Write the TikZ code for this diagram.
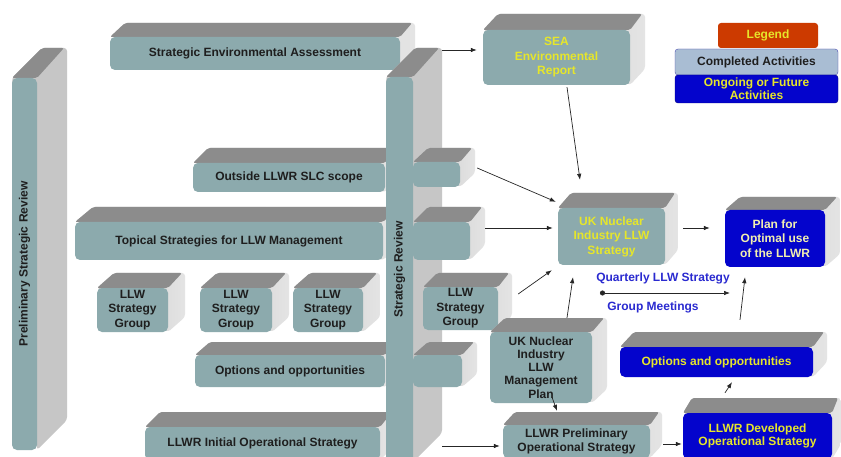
\documentclass[tikz,border=0pt]{standalone}
\usepackage{fontspec}
\setmainfont{Liberation Sans}
\usetikzlibrary{arrows.meta}
\definecolor{tealf}{HTML}{8CAAAD}
\definecolor{topg}{HTML}{8C8C8C}
\definecolor{sideg}{HTML}{C6C6C6}
\definecolor{sidel}{HTML}{E4E4E4}
\definecolor{bluf}{HTML}{0404CC}
\definecolor{ylw}{HTML}{E6E62A}
\definecolor{paleylw}{HTML}{F2F0B0}
\definecolor{txtdark}{HTML}{1E1E1E}
\definecolor{qblue}{HTML}{2A2AD0}
\definecolor{legred}{HTML}{CC3A00}
\definecolor{compl}{HTML}{A9BDD3}
\tikzset{
 front/.style={fill=tealf, rounded corners=5pt, inner sep=1pt, align=center, text=txtdark, font=\bfseries\fontsize{12}{14.5}\selectfont},
 bluebox/.style={fill=bluf, text=ylw},
 yt/.style={text=ylw},
 tight/.style={font=\bfseries\fontsize{12}{13.2}\selectfont},
 arr/.style={-{Latex[length=6pt,width=4.5pt]}, line width=0.7pt, black!85},
 legbox/.style={rounded corners=3pt, inner sep=0pt, align=center, font=\bfseries\fontsize{12}{13}\selectfont},
 qtext/.style={text=qblue, font=\bfseries\fontsize{12}{14}\selectfont},
}
% name, x1, y1, x2, y2, dx, dy, style, text
\newcommand{\tdbox}[9]{%
  \pgfmathsetmacro\bw{#4-#2}\pgfmathsetmacro\bh{#5-#3}%
  \shade[left color=sideg, right color=sidel, rounded corners=3pt] (#2,#3) -- ({#2+#6},{#3-#7}) -- ({#4+#6},{#3-#7}) -- ({#4+#6},{#5-#7}) -- (#4,#5) -- cycle;
  \fill[topg, rounded corners=2pt] (#2,#3) -- ({#2+#6},{#3-#7}) -- ({#4+#6-3},{#3-#7}) -- (#4,#3) -- cycle;
  \node[front, #8, minimum width=\bw pt, minimum height=\bh pt] (#1) at ({(#2+#4)/2},{(#3+#5)/2}) {#9};
}
\newcommand{\vbar}[8]{%
  \pgfmathsetmacro\bw{#4-#2}\pgfmathsetmacro\bh{#5-#3}%
  \fill[sideg, rounded corners=3pt] (#2,#3) -- ({#2+#6},{#3-#7}) -- ({#4+#6},{#3-#7}) -- ({#4+#6},{#5-#7}) -- (#4,#5) -- cycle;
  \fill[topg, rounded corners=2pt] (#2,#3) -- ({#2+#6},{#3-#7}) -- ({#4+#6-3},{#3-#7}) -- (#4,#3) -- cycle;
  \node[front, rotate=90, minimum width=\bh pt, minimum height=\bw pt] (#1) at ({(#2+#4)/2},{(#3+#5)/2}) {#8};
}
\begin{document}
\begin{tikzpicture}[x=1pt,y=-1pt]
\useasboundingbox (0,0) rectangle (841,457);
\clip (0,0) rectangle (841,457);
\fill[white] (0,0) rectangle (841,457);

% left column
\vbar{prs}{12}{78}{37}{450}{30}{30}{Preliminary Strategic Review}
\tdbox{sea}{110}{37}{400}{70}{15}{14}{}{Strategic Environmental Assessment}
\tdbox{outs}{193}{163}{385}{192}{15}{15}{}{Outside LLWR SLC scope}
\tdbox{tops}{75}{222}{383}{260}{18}{15}{}{Topical Strategies for LLW Management}
\tdbox{ga}{97}{288}{168}{332}{17}{15}{}{LLW\\Strategy\\Group}
\tdbox{gb}{200}{288}{272}{332}{17}{15}{}{LLW\\Strategy\\Group}
\tdbox{gc}{293}{288}{363}{332}{17}{15}{}{LLW\\Strategy\\Group}
\tdbox{opts}{195}{355}{385}{387}{15}{13}{}{Options and opportunities}
\tdbox{init}{145}{427}{380}{460}{15}{15}{}{LLWR Initial Operational Strategy}

% strategic review bar and stubs
\vbar{sr}{386}{77}{413}{462}{29}{29}{Strategic Review}
\tdbox{outs2}{413}{162}{460}{187}{15}{14}{}{}
\tdbox{tops2}{413}{222}{470}{260}{15}{15}{}{}
\tdbox{gd}{423}{287}{498}{330}{14}{14}{}{LLW\\Strategy\\Group}
\tdbox{opts2}{413}{355}{462}{387}{15}{13}{}{}

% right column
\tdbox{seaR}{483}{30}{630}{85}{15}{16}{yt}{SEA\\Environmental\\Report}
\tdbox{uks}{558}{208}{665}{265}{13}{15}{yt}{UK Nuclear\\Industry LLW\\Strategy}
\tdbox{plan}{725}{210}{825}{267}{15}{13}{bluebox,text=paleylw}{Plan for\\Optimal use\\of the LLWR}
\tdbox{mp}{490}{332}{592}{403}{15}{14}{tight}{UK Nuclear\\Industry\\LLW\\Management\\Plan}
\tdbox{prel}{503}{425}{650}{458}{12}{13}{tight}{LLWR Preliminary\\Operational Strategy}
\tdbox{optb}{620}{347}{813}{377}{14}{15}{bluebox}{Options and opportunities}
\tdbox{dev}{683}{413}{832}{459}{9}{15}{bluebox,tight}{LLWR Developed\\Operational Strategy}

% legend
\node[legbox, fill=legred, text=ylw, minimum width=100pt, minimum height=25pt] (leg) at (768,35.5) {Legend};
\node[legbox, fill=compl, draw=gray!60!blue, text=txtdark, minimum width=163pt, minimum height=26pt] (comp) at (756.5,62) {Completed Activities};
\node[legbox, fill=bluf, draw=blue!50!black, text=ylw, minimum width=163pt, minimum height=28pt] (ong) at (756.5,89) {Ongoing or Future\\Activities};

% quarterly meetings
\node[qtext] (qt) at (663,278) {Quarterly LLW Strategy};
\node[qtext] (gm) at (653,307) {Group Meetings};
\coordinate (qa) at (600,293);
\coordinate (qb) at (730,293);
\draw[{Circle[length=5pt]}-{Latex[length=6pt,width=4.5pt]}, line width=0.7pt, black!85] (qa) -- (qb);

% connectors
\coordinate (srtop) at (442,50);
\draw[arr, shorten >=6pt] (srtop) -- (seaR.west |- srtop);
\draw[arr] ([xshift=10.5pt,yshift=-2pt]seaR.south) -- ([xshift=-31.5pt,yshift=28pt]uks.north);
\draw[arr] ([xshift=17pt,yshift=6.5pt]outs2.east) -- ([xshift=-2pt,yshift=6pt]uks.north west);
\draw[arr] ([xshift=15pt,yshift=13pt]tops2.east) -- ([xshift=-5pt,yshift=8.5pt]uks.west);
\draw[arr] ([xshift=20pt,yshift=14.5pt]gd.east) -- ([xshift=-6pt,yshift=-5pt]uks.south west);
\draw[arr] ([xshift=26pt,yshift=14pt]mp.north) -- ([xshift=-38.5pt,yshift=-12pt]uks.south);
\draw[arr] ([xshift=18pt,yshift=8.5pt]uks.east) -- ([xshift=-15pt,yshift=10.5pt]plan.west);
\draw[arr] ([xshift=23.5pt,yshift=27pt]optb.north) -- ([xshift=-30pt,yshift=-10pt]plan.south);
\draw[arr] ([xshift=11pt,yshift=6pt]mp.south) -- ([xshift=-19.5pt,yshift=14pt]prel.north);
\draw[arr] ([xshift=62pt,yshift=-2.5pt]init.east) -- ([xshift=-3pt,yshift=-4.5pt]prel.west);
\draw[arr] ([xshift=13pt,yshift=-2.5pt]prel.east) -- ([xshift=-1pt,yshift=-8pt]dev.west);
\draw[arr] ([xshift=-32.5pt,yshift=20pt]dev.north) -- ([xshift=15.5pt,yshift=-5pt]optb.south);
\end{tikzpicture}
\end{document}
